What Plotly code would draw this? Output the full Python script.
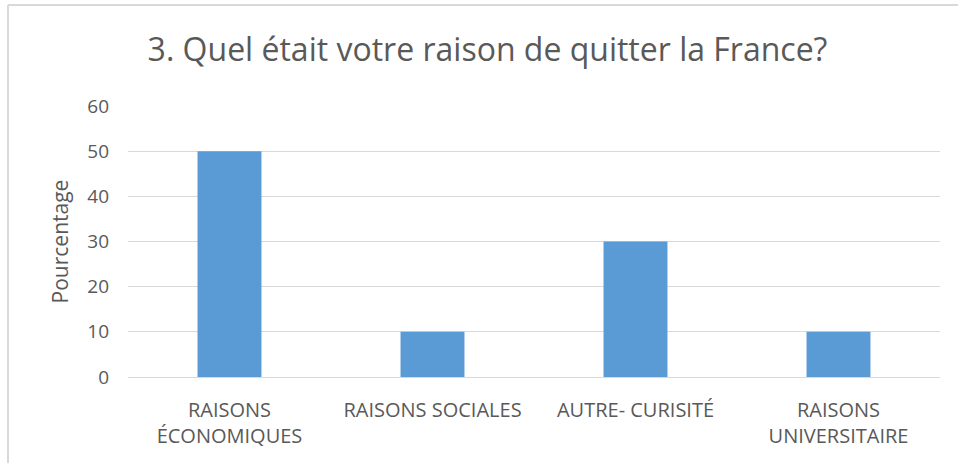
import plotly.graph_objects as go

categories = ["RAISONS<br>ÉCONOMIQUES", "RAISONS SOCIALES", "AUTRE- CURISITÉ", "RAISONS<br>UNIVERSITAIRE"]
values = [50, 10, 30, 10]
y_ticks = [0, 10, 20, 30, 40, 50, 60]

W, H = 958, 463
L, R, T, B = 128, 18, 106, 86
pw, ph = W - L - R, H - T - B

def px_x(x):
    return (x - L) / pw

def px_y(y):
    return (H - B - y) / ph

font = "Open Sans, Noto Sans, sans-serif"
txt = "#595959"
grid = "#d9d9d9"

fig = go.Figure(go.Bar(x=categories, y=values, marker=dict(color="#5b9bd5", line=dict(width=0)),
                       width=0.315))

fig.update_layout(
    width=W, height=H,
    margin=dict(l=L, r=R, t=T, b=B),
    paper_bgcolor="white", plot_bgcolor="white",
    showlegend=False,
    title=dict(text="3. Quel était votre raison de quitter la France?", x=487.5 / W, xanchor="center",
               y=1 - 50 / H, yanchor="middle", font=dict(family=font, size=32, color=txt)),
    font=dict(family=font, color=txt),
    xaxis=dict(showgrid=False, showline=False, ticks="", tickfont=dict(size=20, color=txt),
               ticklabelstandoff=19),
    yaxis=dict(range=[0, 60], tickvals=y_ticks, showgrid=True, gridcolor=grid, gridwidth=1,
               zeroline=True, zerolinecolor=grid, zerolinewidth=1, showline=False,
               tickfont=dict(size=19, color=txt), ticklabelstandoff=18,
               title=dict(text="Pourcentage", font=dict(size=21, color=txt), standoff=12)),
    shapes=[
        dict(type="line", xref="paper", yref="paper", x0=px_x(8), x1=px_x(8), y0=px_y(5), y1=px_y(470),
             line=dict(color=grid, width=2)),
        dict(type="line", xref="paper", yref="paper", x0=px_x(8), x1=px_x(965), y0=px_y(5), y1=px_y(5),
             line=dict(color=grid, width=2)),
    ],
)

fig.write_html("out.html", config={"displayModeBar": False},
               post_script="document.body.style.margin='0px';")
